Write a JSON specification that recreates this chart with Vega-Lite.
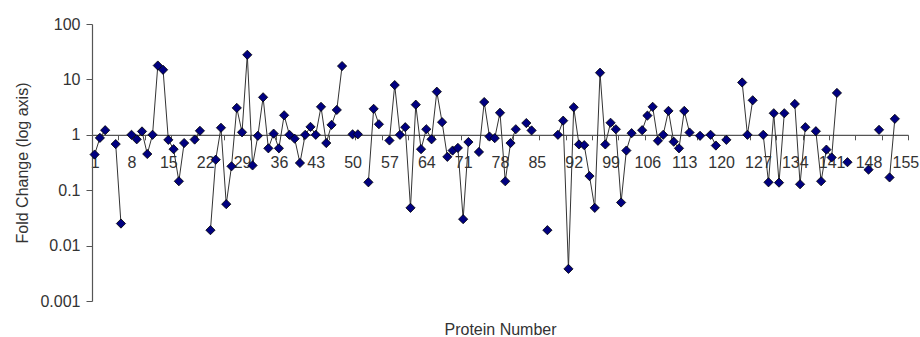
{
  "$schema": "https://vega.github.io/schema/vega-lite/v6.json",
  "width": 816,
  "height": 277,
  "autosize": {"type": "none"},
  "padding": {"left": 92, "top": 24, "right": 12, "bottom": 36},
  "background": "white",
  "config": {"view": {"stroke": null}, "font": "Liberation Sans"},
  "data": {"values": [
    {"protein": 1, "fold": 0.44}, {"protein": 2, "fold": 0.88}, {"protein": 3, "fold": 1.21}, {"protein": 4, "fold": null},
    {"protein": 5, "fold": 0.68}, {"protein": 6, "fold": 0.025}, {"protein": 7, "fold": null}, {"protein": 8, "fold": 1.0},
    {"protein": 9, "fold": 0.83}, {"protein": 10, "fold": 1.15}, {"protein": 11, "fold": 0.45}, {"protein": 12, "fold": 1.0},
    {"protein": 13, "fold": 17.8}, {"protein": 14, "fold": 14.9}, {"protein": 15, "fold": 0.81}, {"protein": 16, "fold": 0.55},
    {"protein": 17, "fold": 0.145}, {"protein": 18, "fold": 0.71}, {"protein": 19, "fold": null}, {"protein": 20, "fold": 0.82},
    {"protein": 21, "fold": 1.18}, {"protein": 22, "fold": null}, {"protein": 23, "fold": 0.019}, {"protein": 24, "fold": 0.355},
    {"protein": 25, "fold": 1.34}, {"protein": 26, "fold": 0.056}, {"protein": 27, "fold": 0.27}, {"protein": 28, "fold": 3.06},
    {"protein": 29, "fold": 1.11}, {"protein": 30, "fold": 27.8}, {"protein": 31, "fold": 0.28}, {"protein": 32, "fold": 0.96},
    {"protein": 33, "fold": 4.75}, {"protein": 34, "fold": 0.57}, {"protein": 35, "fold": 1.05}, {"protein": 36, "fold": 0.57},
    {"protein": 37, "fold": 2.25}, {"protein": 38, "fold": 1.0}, {"protein": 39, "fold": 0.85}, {"protein": 40, "fold": 0.31},
    {"protein": 41, "fold": 1.0}, {"protein": 42, "fold": 1.39}, {"protein": 43, "fold": 1.0}, {"protein": 44, "fold": 3.2},
    {"protein": 45, "fold": 0.71}, {"protein": 46, "fold": 1.51}, {"protein": 47, "fold": 2.81}, {"protein": 48, "fold": 17.4},
    {"protein": 49, "fold": null}, {"protein": 50, "fold": 1.02}, {"protein": 51, "fold": 1.02}, {"protein": 52, "fold": null},
    {"protein": 53, "fold": 0.139}, {"protein": 54, "fold": 2.94}, {"protein": 55, "fold": 1.55}, {"protein": 56, "fold": null},
    {"protein": 57, "fold": 0.79}, {"protein": 58, "fold": 7.9}, {"protein": 59, "fold": 1.0}, {"protein": 60, "fold": 1.37},
    {"protein": 61, "fold": 0.048}, {"protein": 62, "fold": 3.5}, {"protein": 63, "fold": 0.55}, {"protein": 64, "fold": 1.26},
    {"protein": 65, "fold": 0.83}, {"protein": 66, "fold": 6.0}, {"protein": 67, "fold": 1.69}, {"protein": 68, "fold": 0.4},
    {"protein": 69, "fold": 0.52}, {"protein": 70, "fold": 0.58}, {"protein": 71, "fold": 0.03}, {"protein": 72, "fold": 0.74},
    {"protein": 73, "fold": null}, {"protein": 74, "fold": 0.49}, {"protein": 75, "fold": 3.9}, {"protein": 76, "fold": 0.93},
    {"protein": 77, "fold": 0.87}, {"protein": 78, "fold": 2.5}, {"protein": 79, "fold": 0.145}, {"protein": 80, "fold": 0.71},
    {"protein": 81, "fold": 1.26}, {"protein": 82, "fold": null}, {"protein": 83, "fold": 1.63}, {"protein": 84, "fold": 1.2},
    {"protein": 85, "fold": null}, {"protein": 86, "fold": null}, {"protein": 87, "fold": 0.019}, {"protein": 88, "fold": null},
    {"protein": 89, "fold": 1.0}, {"protein": 90, "fold": 1.8}, {"protein": 91, "fold": 0.0038}, {"protein": 92, "fold": 3.14},
    {"protein": 93, "fold": 0.67}, {"protein": 94, "fold": 0.65}, {"protein": 95, "fold": 0.18}, {"protein": 96, "fold": 0.048},
    {"protein": 97, "fold": 13.2}, {"protein": 98, "fold": 0.67}, {"protein": 99, "fold": 1.65}, {"protein": 100, "fold": 1.26},
    {"protein": 101, "fold": 0.06}, {"protein": 102, "fold": 0.52}, {"protein": 103, "fold": 1.07}, {"protein": 104, "fold": null},
    {"protein": 105, "fold": 1.21}, {"protein": 106, "fold": 2.22}, {"protein": 107, "fold": 3.2}, {"protein": 108, "fold": 0.78},
    {"protein": 109, "fold": 1.0}, {"protein": 110, "fold": 2.7}, {"protein": 111, "fold": 0.75}, {"protein": 112, "fold": 0.57},
    {"protein": 113, "fold": 2.7}, {"protein": 114, "fold": 1.1}, {"protein": 115, "fold": null}, {"protein": 116, "fold": 0.96},
    {"protein": 117, "fold": null}, {"protein": 118, "fold": 1.0}, {"protein": 119, "fold": 0.64}, {"protein": 120, "fold": null},
    {"protein": 121, "fold": 0.81}, {"protein": 122, "fold": null}, {"protein": 123, "fold": null}, {"protein": 124, "fold": 8.8},
    {"protein": 125, "fold": 1.0}, {"protein": 126, "fold": 4.2}, {"protein": 127, "fold": null}, {"protein": 128, "fold": 1.0},
    {"protein": 129, "fold": 0.139}, {"protein": 130, "fold": 2.45}, {"protein": 131, "fold": 0.137}, {"protein": 132, "fold": 2.45},
    {"protein": 133, "fold": null}, {"protein": 134, "fold": 3.6}, {"protein": 135, "fold": 0.128}, {"protein": 136, "fold": 1.37},
    {"protein": 137, "fold": null}, {"protein": 138, "fold": 1.16}, {"protein": 139, "fold": 0.145}, {"protein": 140, "fold": 0.54},
    {"protein": 141, "fold": 0.39}, {"protein": 142, "fold": 5.7}, {"protein": 143, "fold": null}, {"protein": 144, "fold": 0.32},
    {"protein": 145, "fold": null}, {"protein": 146, "fold": null}, {"protein": 147, "fold": null}, {"protein": 148, "fold": 0.235},
    {"protein": 149, "fold": null}, {"protein": 150, "fold": 1.23}, {"protein": 151, "fold": null}, {"protein": 152, "fold": 0.17},
    {"protein": 153, "fold": 1.94}, {"protein": 154, "fold": null}, {"protein": 155, "fold": null}
  ]},
  "encoding": {
    "x": {
      "field": "protein",
      "type": "quantitative",
      "scale": {"domain": [0.5, 155.5], "nice": false, "zero": false},
      "axis": {
        "values": [0.5, 1, 5.5, 8, 10.5, 15, 15.5, 20.5, 22, 25.5, 29, 30.5, 35.5, 36, 40.5, 43, 45.5, 50, 50.5, 55.5, 57, 60.5, 64, 65.5, 70.5, 71, 75.5, 78, 80.5, 85, 85.5, 90.5, 92, 95.5, 99, 100.5, 105.5, 106, 110.5, 113, 115.5, 120, 120.5, 125.5, 127, 130.5, 134, 135.5, 140.5, 141, 145.5, 148, 150.5, 155, 155.5],
        "offset": -166.2,
        "tickSize": 5,
        "tickColor": {"condition": {"test": "datum.value % 1 == 0", "value": "transparent"}, "value": "#555555"},
        "labelExpr": "datum.value % 1 == 0 ? datum.label : ''",
        "format": "d",
        "labelPadding": 14.5,
        "labelFontSize": 16,
        "labelColor": "#333333",
        "labelOverlap": false,
        "labelFlush": false,
        "labelBound": false,
        "grid": false,
        "domainColor": "#555555",
        "domainWidth": 1.2,
        "title": "Protein Number",
        "titleFontSize": 16,
        "titleFontWeight": "normal",
        "titleColor": "#333333",
        "titleBaseline": "alphabetic",
        "titleY": 200
      }
    },
    "y": {
      "field": "fold",
      "type": "quantitative",
      "scale": {"type": "log", "domain": [0.001, 100], "nice": false},
      "axis": {
        "values": [0.001, 0.01, 0.1, 1, 10, 100],
        "format": "~g",
        "tickSize": 6,
        "tickColor": "#555555",
        "labelPadding": 6,
        "labelFontSize": 16,
        "labelColor": "#333333",
        "labelOverlap": false,
        "labelFlush": false,
        "grid": false,
        "domainColor": "#555555",
        "domainWidth": 1.2,
        "title": "Fold Change (log axis)",
        "titleFontSize": 16,
        "titleFontWeight": "normal",
        "titleColor": "#333333",
        "titlePadding": 9
      }
    }
  },
  "layer": [
    {
      "mark": {"type": "line", "color": "#333333", "strokeWidth": 1, "invalid": "break-paths-filter-domains"},
      "encoding": {}
    },
    {
      "mark": {"type": "point", "shape": "diamond", "filled": true, "fill": "#000080", "stroke": "#000000", "strokeWidth": 0.8, "size": 85, "opacity": 1}
    }
  ]
}
